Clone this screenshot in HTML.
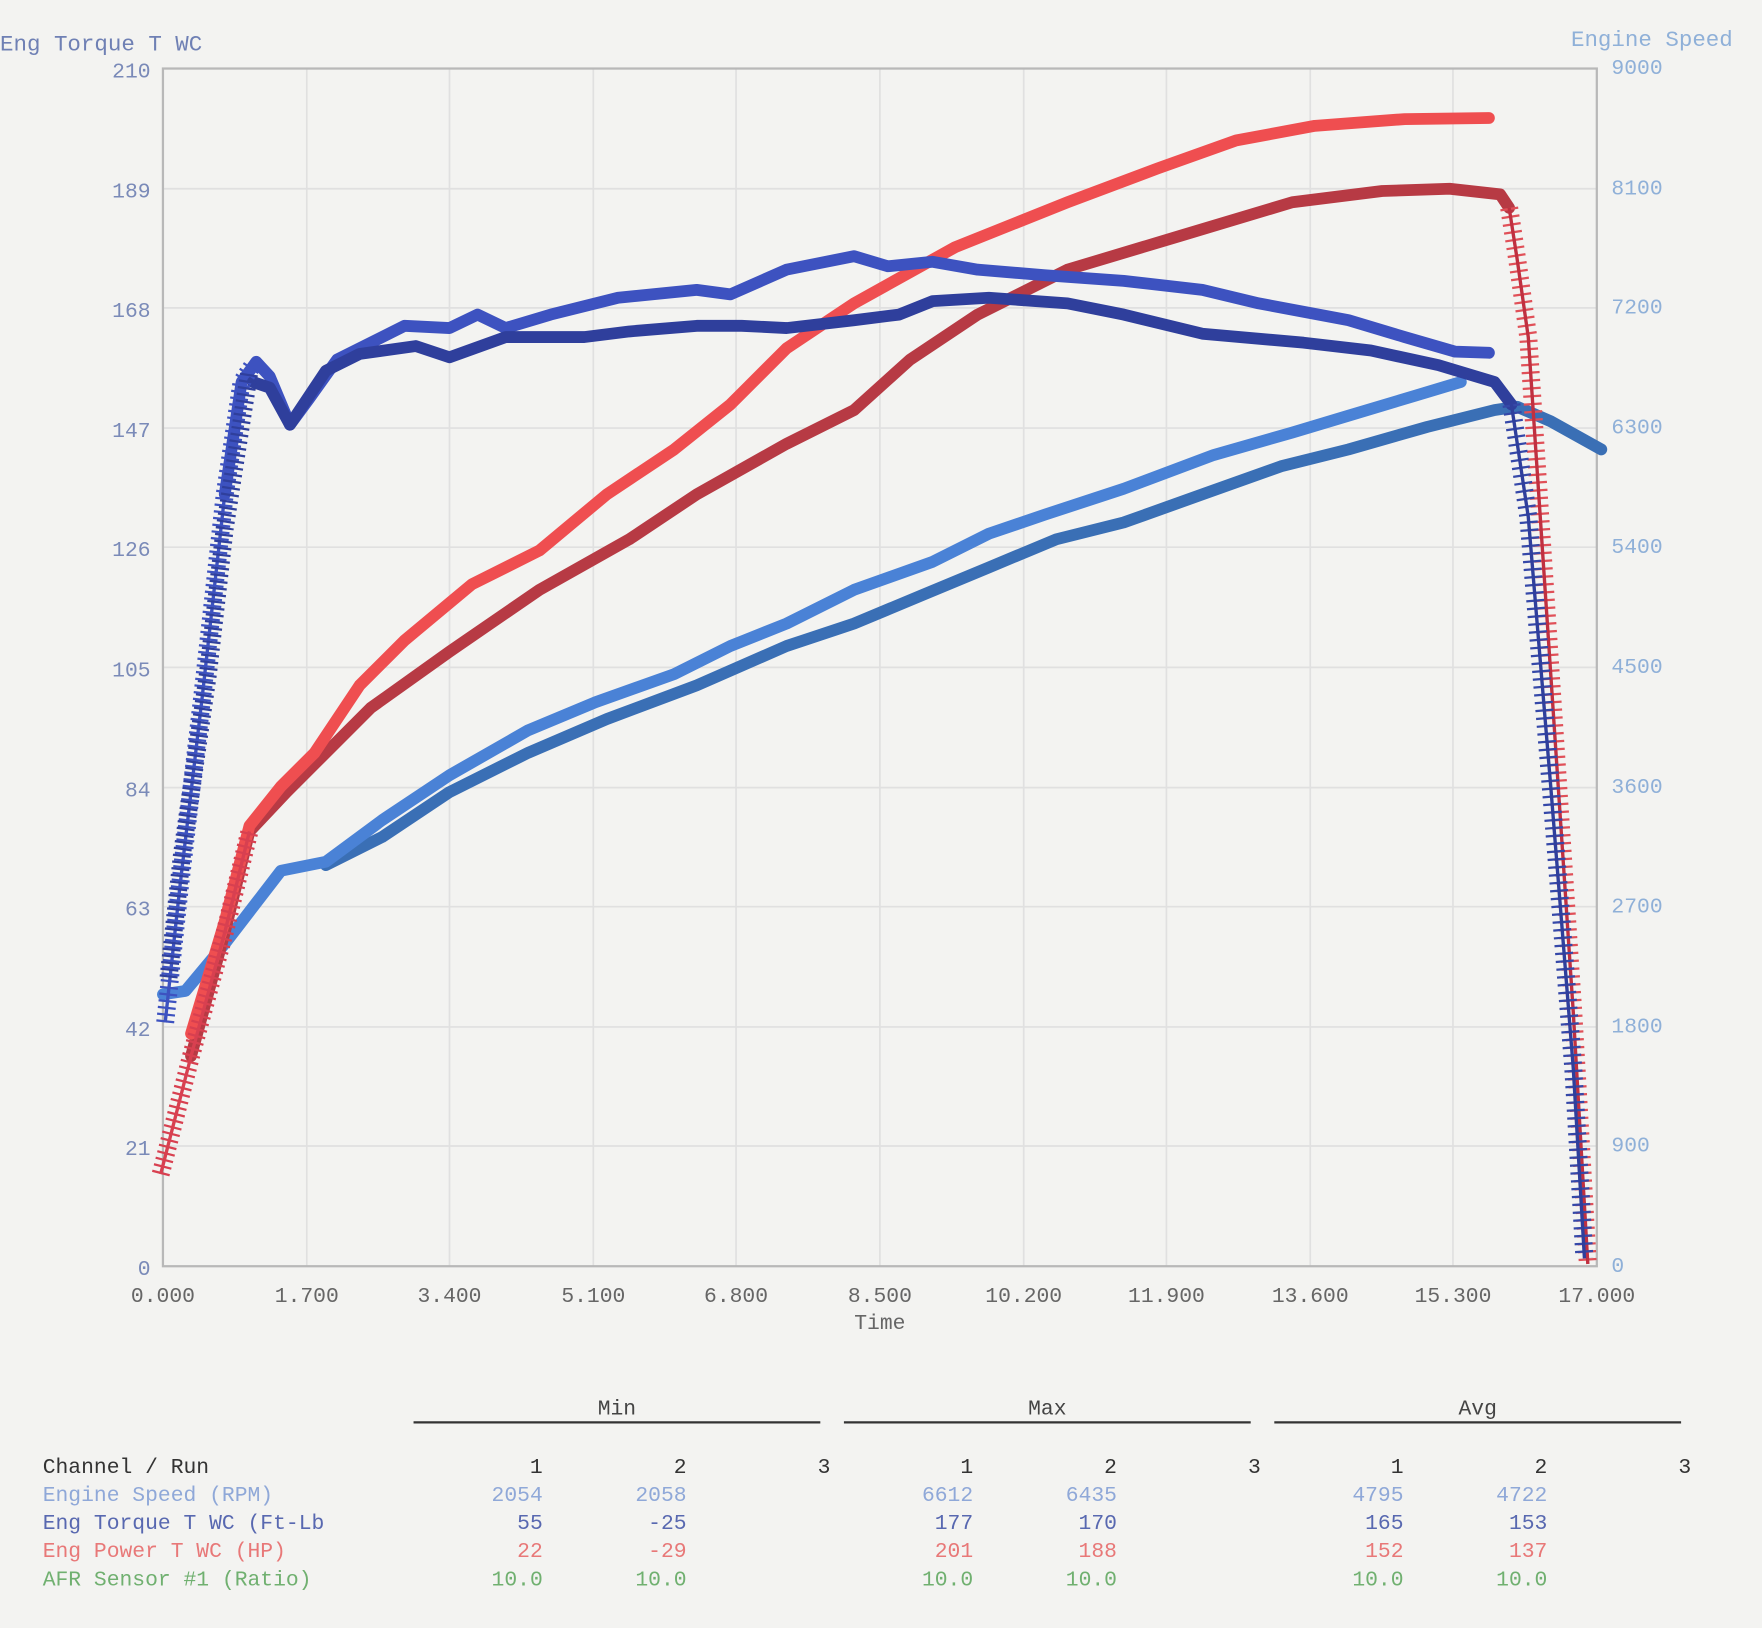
<!DOCTYPE html>
<html><head><style>
html,body{margin:0;padding:0;background:#f3f3f1;}
svg{display:block;}
text{font-family:"Liberation Mono",monospace;}
</style></head><body>
<svg width="1762" height="1628" viewBox="0 0 1568 1449" preserveAspectRatio="none" xmlns="http://www.w3.org/2000/svg">
<rect width="1568" height="1449" fill="#f3f3f1"/>
<g stroke="#e0e0e0" stroke-width="1.5">
<line x1="273" y1="61" x2="273" y2="1127"/><line x1="400" y1="61" x2="400" y2="1127"/><line x1="528" y1="61" x2="528" y2="1127"/><line x1="655" y1="61" x2="655" y2="1127"/><line x1="783" y1="61" x2="783" y2="1127"/><line x1="911" y1="61" x2="911" y2="1127"/><line x1="1038" y1="61" x2="1038" y2="1127"/><line x1="1166" y1="61" x2="1166" y2="1127"/><line x1="1293" y1="61" x2="1293" y2="1127"/>
<line x1="145" y1="168" x2="1421" y2="168"/><line x1="145" y1="274" x2="1421" y2="274"/><line x1="145" y1="381" x2="1421" y2="381"/><line x1="145" y1="487" x2="1421" y2="487"/><line x1="145" y1="594" x2="1421" y2="594"/><line x1="145" y1="701" x2="1421" y2="701"/><line x1="145" y1="807" x2="1421" y2="807"/><line x1="145" y1="914" x2="1421" y2="914"/><line x1="145" y1="1020" x2="1421" y2="1020"/>
</g>
<rect x="145" y="61" width="1276" height="1066" fill="none" stroke="#b8b8b8" stroke-width="2"/>
<g font-size="19" fill="#7a8ab8" text-anchor="end">
<text x="134" y="69">210</text><text x="134" y="176">189</text><text x="134" y="282">168</text><text x="134" y="389">147</text><text x="134" y="495">126</text><text x="134" y="602">105</text><text x="134" y="709">84</text><text x="134" y="815">63</text><text x="134" y="922">42</text><text x="134" y="1028">21</text><text x="134" y="1135">0</text>
</g>
<g font-size="19" fill="#8fb0d8" text-anchor="start">
<text x="1434" y="66">9000</text><text x="1434" y="173">8100</text><text x="1434" y="279">7200</text><text x="1434" y="386">6300</text><text x="1434" y="492">5400</text><text x="1434" y="599">4500</text><text x="1434" y="706">3600</text><text x="1434" y="812">2700</text><text x="1434" y="919">1800</text><text x="1434" y="1025">900</text><text x="1434" y="1132">0</text>
</g>
<text x="0" y="45" font-size="20" fill="#6f80b4">Eng Torque T WC</text>
<text x="1398" y="41" font-size="20" fill="#8fb0d8">Engine Speed</text>
<g font-size="19" fill="#666" text-anchor="middle">
<text x="145" y="1159">0.000</text><text x="273" y="1159">1.700</text><text x="400" y="1159">3.400</text><text x="528" y="1159">5.100</text><text x="655" y="1159">6.800</text><text x="783" y="1159">8.500</text><text x="911" y="1159">10.200</text><text x="1038" y="1159">11.900</text><text x="1166" y="1159">13.600</text><text x="1293" y="1159">15.300</text><text x="1421" y="1159">17.000</text>
<text x="783" y="1183">Time</text>
</g>
<g fill="none" stroke-linecap="round" stroke-linejoin="round" stroke-width="10.5">
<polyline stroke="#3a6fb5" points="290,770 340,745 400,705 470,670 540,640 620,610 700,575 760,555 820,530 880,505 940,480 1000,465 1070,440 1140,415 1200,400 1270,380 1330,365 1350,362 1380,375 1425,400"/>
<polyline stroke="#4a82d6" points="145,885 165,882 200,840 250,775 290,767 340,730 400,690 470,650 530,625 600,600 650,575 700,555 760,525 830,500 880,475 930,458 1000,435 1080,405 1150,385 1200,370 1260,352 1300,340"/>
<polyline stroke="#b73a44" points="170,940 200,830 222,740 255,705 280,680 330,630 400,580 480,525 560,480 620,440 700,395 760,365 810,320 870,280 950,240 1050,210 1150,180 1230,170 1290,168 1335,173 1343,185"/>
<polyline stroke="#ef4e50" points="170,920 200,820 222,735 250,700 280,670 320,610 360,570 420,520 480,490 540,440 600,400 650,360 700,310 760,270 850,220 950,180 1030,150 1100,125 1170,112 1250,106 1325,105"/>
<polyline stroke="#3d52c0" points="200,440 215,340 228,322 240,335 258,378 275,355 300,320 360,290 400,292 425,280 450,292 490,280 550,265 620,258 650,262 700,240 760,228 790,237 830,233 870,240 930,245 1000,250 1070,258 1120,270 1200,285 1250,300 1295,313 1325,314"/>
<polyline stroke="#2f3f9c" points="225,340 240,345 258,378 290,330 320,315 370,308 400,318 450,300 520,300 560,295 620,290 660,290 700,292 760,285 800,280 830,268 880,265 950,270 1000,280 1070,297 1160,305 1220,312 1280,325 1330,340 1345,360"/>
</g>
<g fill="none" stroke-linejoin="round">
<polyline stroke="#d84050" stroke-width="16" stroke-dasharray="2 4" points="143,1045 170,940 200,830 222,740"/>
<polyline stroke="#d84050" stroke-width="3" points="143,1045 170,940 200,830 222,740"/>
<polyline stroke="#e05058" stroke-width="16" stroke-dasharray="2 5" points="1343,185 1350,230 1360,300 1380,600 1400,900 1413,1125"/>
<polyline stroke="#c03040" stroke-width="3" points="1343,185 1350,230 1360,300 1380,600 1400,900 1413,1125"/>
<polyline stroke="#3d52c0" stroke-width="16" stroke-dasharray="2 4" points="147,910 160,790 180,620 200,440 215,340 225,325"/>
<polyline stroke="#3d52c0" stroke-width="3" points="147,910 160,790 180,620 200,440 215,340 225,325"/>
<polyline stroke="#2f3f9c" stroke-width="16" stroke-dasharray="2 4" points="150,870 162,760 185,600 200,470 222,330"/>
<polyline stroke="#3548a8" stroke-width="16" stroke-dasharray="2 5" points="1345,360 1360,460 1380,700 1400,950 1410,1120"/>
<polyline stroke="#2f3f9c" stroke-width="3" points="1345,360 1360,460 1380,700 1400,950 1410,1120"/>
</g>
<g stroke="#333" stroke-width="2">
<line x1="368" y1="1266" x2="730" y2="1266"/><line x1="751" y1="1266" x2="1113" y2="1266"/><line x1="1134" y1="1266" x2="1496" y2="1266"/>
</g>
<g font-size="19" text-anchor="middle" fill="#444">
<text x="549" y="1259">Min</text><text x="932" y="1259">Max</text><text x="1315" y="1259">Avg</text>
</g>
<g font-size="19">
<text x="38" y="1311" fill="#333">Channel / Run</text>
<text x="38" y="1336" fill="#8fa8d8">Engine Speed (RPM)</text>
<text x="38" y="1361" fill="#5868b0">Eng Torque T WC (Ft-Lb</text>
<text x="38" y="1386" fill="#e87878">Eng Power T WC (HP)</text>
<text x="38" y="1411" fill="#70b070">AFR Sensor #1 (Ratio)</text>
</g>
<g font-size="19" text-anchor="end">
<g fill="#333"><text x="483" y="1311">1</text><text x="611" y="1311">2</text><text x="739" y="1311">3</text><text x="866" y="1311">1</text><text x="994" y="1311">2</text><text x="1122" y="1311">3</text><text x="1249" y="1311">1</text><text x="1377" y="1311">2</text><text x="1505" y="1311">3</text></g>
<g fill="#8fa8d8"><text x="483" y="1336">2054</text><text x="611" y="1336">2058</text><text x="866" y="1336">6612</text><text x="994" y="1336">6435</text><text x="1249" y="1336">4795</text><text x="1377" y="1336">4722</text></g>
<g fill="#5868b0"><text x="483" y="1361">55</text><text x="611" y="1361">-25</text><text x="866" y="1361">177</text><text x="994" y="1361">170</text><text x="1249" y="1361">165</text><text x="1377" y="1361">153</text></g>
<g fill="#e87878"><text x="483" y="1386">22</text><text x="611" y="1386">-29</text><text x="866" y="1386">201</text><text x="994" y="1386">188</text><text x="1249" y="1386">152</text><text x="1377" y="1386">137</text></g>
<g fill="#70b070"><text x="483" y="1411">10.0</text><text x="611" y="1411">10.0</text><text x="866" y="1411">10.0</text><text x="994" y="1411">10.0</text><text x="1249" y="1411">10.0</text><text x="1377" y="1411">10.0</text></g>
</g>
</svg>
</body></html>
